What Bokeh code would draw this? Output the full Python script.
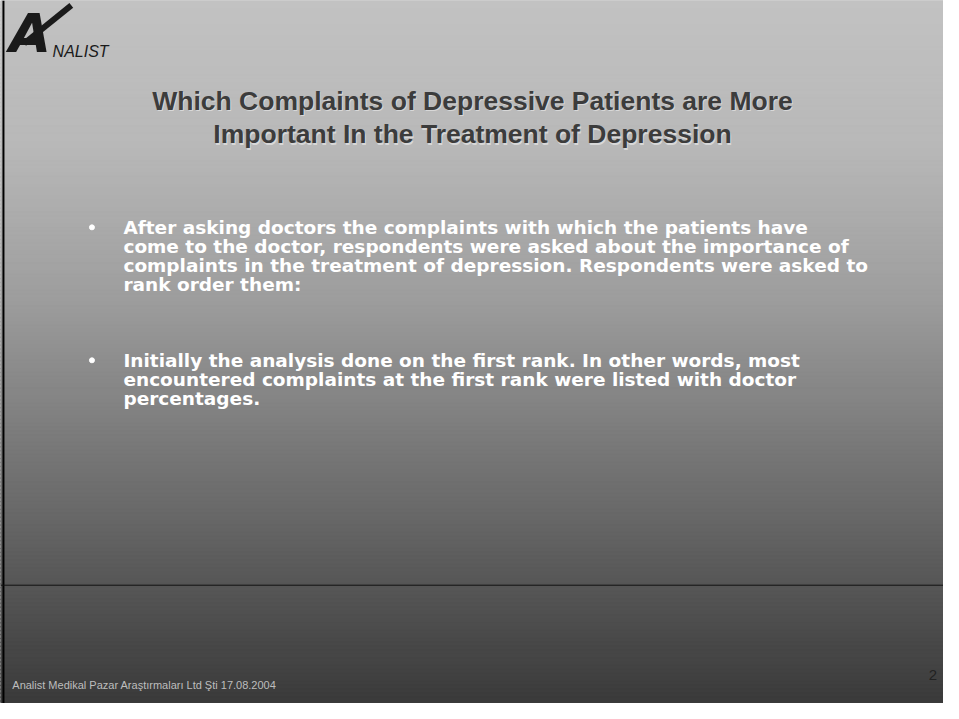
import numpy as np
from bokeh.plotting import figure
from bokeh.models import Range1d
from bokeh.core.properties import value
from bokeh.embed import file_html
from bokeh.resources import INLINE

# ---- slide content ----
title_lines = [
    "Which Complaints of Depressive Patients are More",
    "Important In the Treatment of Depression",
]
bullet1_lines = [
    "After asking doctors the complaints with which the patients have",
    "come to the doctor, respondents were asked about the importance of",
    "complaints in the treatment of depression. Respondents were asked to",
    "rank order them:",
]
bullet2_lines = [
    "Initially the analysis done on the first rank. In other words, most",
    "encountered complaints at the first rank were listed with doctor",
    "percentages.",
]
logo_text = "NALIST"
footer_text = "Analist Medikal Pazar Araştırmaları Ltd Şti 17.08.2004"
page_number = "2"

# background gradient stops (slide y position, gray level)
grad_y = [0, 150, 300, 450, 600, 719]
grad_v = [194, 184, 158, 122, 86, 58]

W, H = 943, 703
p = figure(width=W, height=H, output_backend="svg", toolbar_location=None,
           x_range=Range1d(0, 959), y_range=Range1d(719, 0),
           min_border=0)
p.axis.visible = False
p.grid.visible = False
p.outline_line_color = None
p.background_fill_color = "#bcbcbc"
p.border_fill_color = "white"

# gradient background as thin horizontal bands
step = 4
tops = np.arange(0, 720, step)
levels = np.interp(tops + step / 2, grad_y, grad_v).round().astype(int)
colors = ["#%02x%02x%02x" % (v, v, v) for v in levels]
p.quad(left=0, right=959, top=list(tops), bottom=list(tops + step + 1),
       fill_color=colors, line_color=colors, line_width=1)

# borders
p.segment(x0=[3], y0=[0], x1=[3], y1=[719], line_color="black", line_width=2)
# separator line
p.segment(x0=[0], y0=[598], x1=[959], y1=[598], line_color="#111111", line_width=1)

# logo
p.segment(x0=[24], y0=[44], x1=[72], y1=[5], line_color="#1a1a1a", line_width=6)
p.text(x=[9], y=[34], text=["A"], text_font=value("DejaVu Sans"), text_font_style="bold italic",
       text_font_size="54px", text_color="#1a1a1a", text_baseline="middle")
p.text(x=[53], y=[52], text=[logo_text], text_font=value("Liberation Sans"), text_font_style="italic",
       text_font_size="16px", text_color="#1a1a1a", text_baseline="middle")

# title (light shadow + dark text)
ty = [103, 137]
p.text(x=[481] * 2, y=[t + 1.2 for t in ty], text=title_lines, text_font=value("Liberation Sans"),
       text_font_style="bold", text_font_size="26.5px", text_color="#d8d8d8",
       text_align="center", text_baseline="middle")
p.text(x=[480] * 2, y=ty, text=title_lines, text_font=value("Liberation Sans"),
       text_font_style="bold", text_font_size="26.5px", text_color="#3c3c3c",
       text_align="center", text_baseline="middle")

# bullets
lh = 19.5
b1y = [232 + i * lh for i in range(len(bullet1_lines))]
b2y = [368 + i * lh for i in range(len(bullet2_lines))]
p.text(x=[125] * len(bullet1_lines), y=b1y, text=bullet1_lines, text_font=value("DejaVu Sans"),
       text_font_style="bold", text_font_size="18.5px", text_color="white", text_baseline="middle")
p.text(x=[125] * len(bullet2_lines), y=b2y, text=bullet2_lines, text_font=value("DejaVu Sans"),
       text_font_style="bold", text_font_size="18.5px", text_color="white", text_baseline="middle")
p.scatter(x=[93, 93], y=[b1y[0], b2y[0]], size=5, marker="circle", color="white")

# footer
p.text(x=[12], y=[700], text=[footer_text], text_font=value("Liberation Sans"),
       text_font_size="11px", text_color="#bdbdbd", text_baseline="middle")
p.text(x=[944], y=[690], text=[page_number], text_font=value("Liberation Sans"),
       text_font_size="15px", text_color="#222222", text_baseline="middle")

open("out.html", "w").write(file_html(p, INLINE))
